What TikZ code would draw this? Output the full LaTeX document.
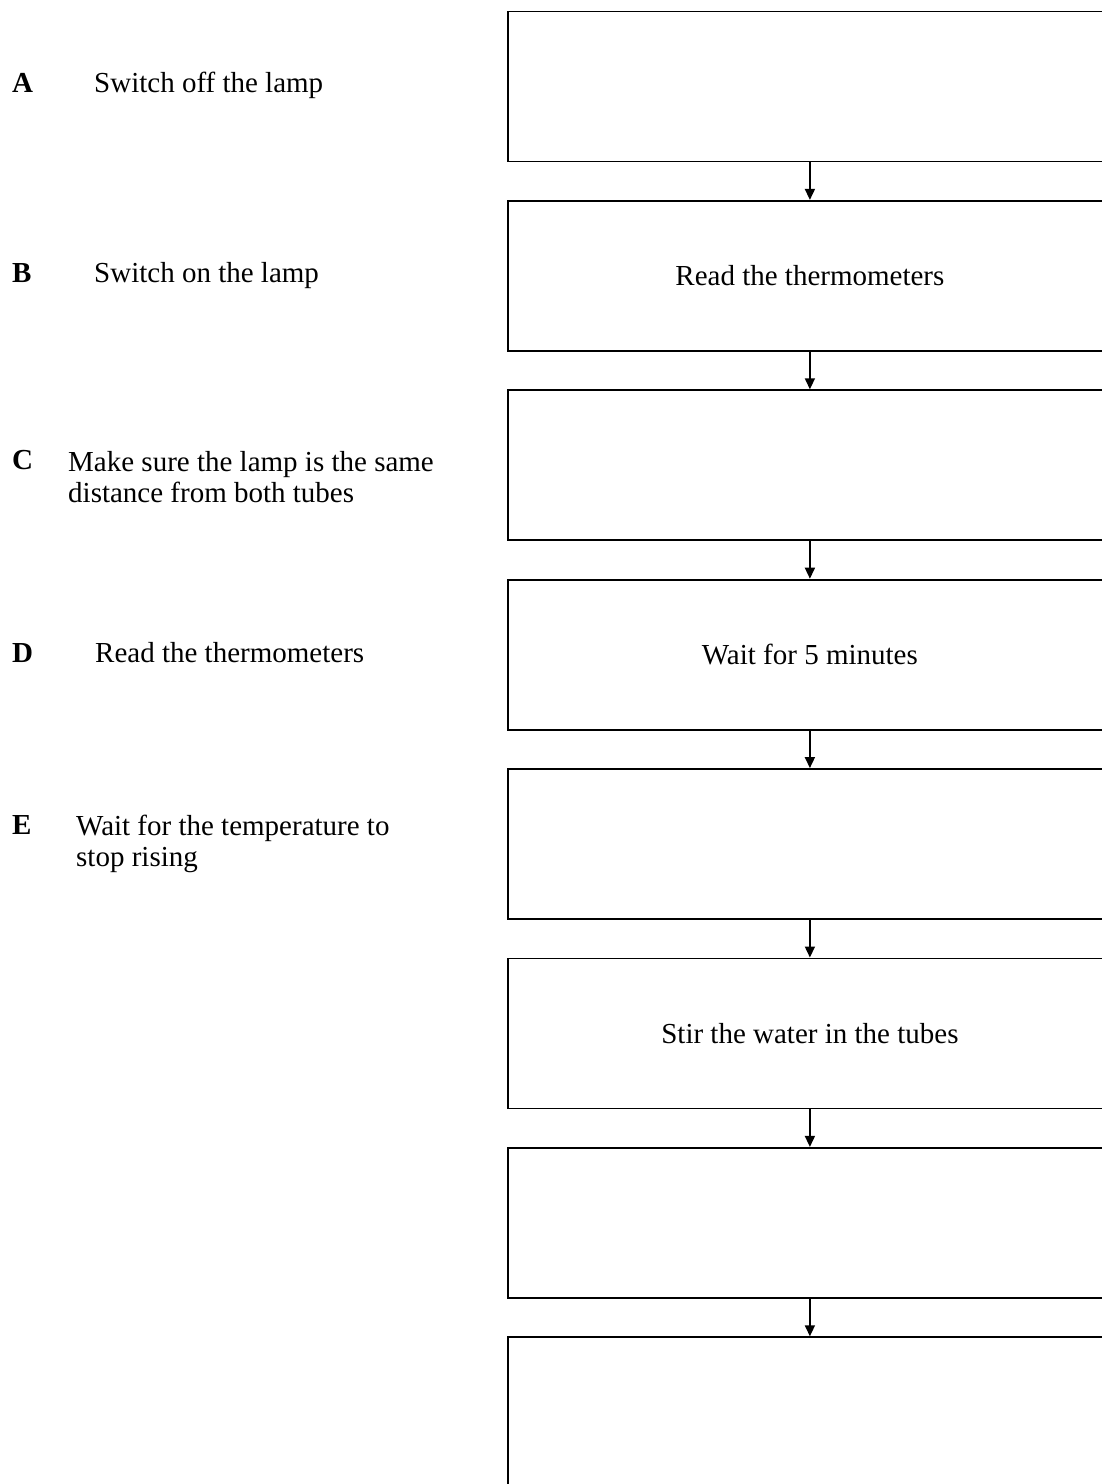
\documentclass[tikz,border=0pt]{standalone}
\usepackage{fontspec}
\setmainfont{Liberation Serif}
\usetikzlibrary{arrows.meta}
\tikzset{
  stepbox/.style={draw, line width=1.8pt, minimum width=604pt, minimum height=150pt, anchor=north west, inner sep=0pt, font=\fontsize{29}{31}\selectfont},
  lbl/.style={anchor=base west, inner sep=0pt, font=\fontsize{29}{31}\selectfont\bfseries},
  item/.style={anchor=base west, inner sep=0pt, align=left, font=\fontsize{29}{31}\selectfont},
  itemm/.style={anchor=north west, inner sep=0pt, align=left, font=\fontsize{29}{31}\selectfont},
  flow/.style={line width=1.6pt, -{Triangle[length=11pt,width=10pt]}}
}
\begin{document}
\begin{tikzpicture}[x=1pt,y=-1pt]
\clip (0,0) rectangle (1102,1484);
\fill[white] (0,0) rectangle (1102,1484);
% left list
\node[lbl] (la) at (12,92) {A};
\node[item] (ta) at (94,92) {Switch off the lamp};
\node[lbl] (lb) at (12,282) {B};
\node[item] (tb) at (94,282) {Switch on the lamp};
\node[lbl] (lc) at (12,469) {C};
\node[itemm] (tc) at (68,451) {Make sure the lamp is the same\\distance from both tubes};
\node[lbl] (ld) at (12,662) {D};
\node[item] (td) at (95,662) {Read the thermometers};
\node[lbl] (le) at (12,834) {E};
\node[itemm] (te) at (76,815) {Wait for the temperature to\\stop rising};
% boxes
\node[stepbox] (b1) at (507,10.5) {};
\node[stepbox] (b2) at (507,199.9) {Read the thermometers};
\node[stepbox] (b3) at (507,389.3) {};
\node[stepbox] (b4) at (507,578.7) {Wait for 5 minutes};
\node[stepbox] (b5) at (507,768.1) {};
\node[stepbox] (b6) at (507,957.5) {Stir the water in the tubes};
\node[stepbox] (b7) at (507,1146.9) {};
\node[stepbox] (b8) at (507,1336.3) {};
\foreach \a/\b in {b1/b2,b2/b3,b3/b4,b4/b5,b5/b6,b6/b7,b7/b8}
  \draw[flow] (\a.south) -- (\b.north);
\end{tikzpicture}
\end{document}
